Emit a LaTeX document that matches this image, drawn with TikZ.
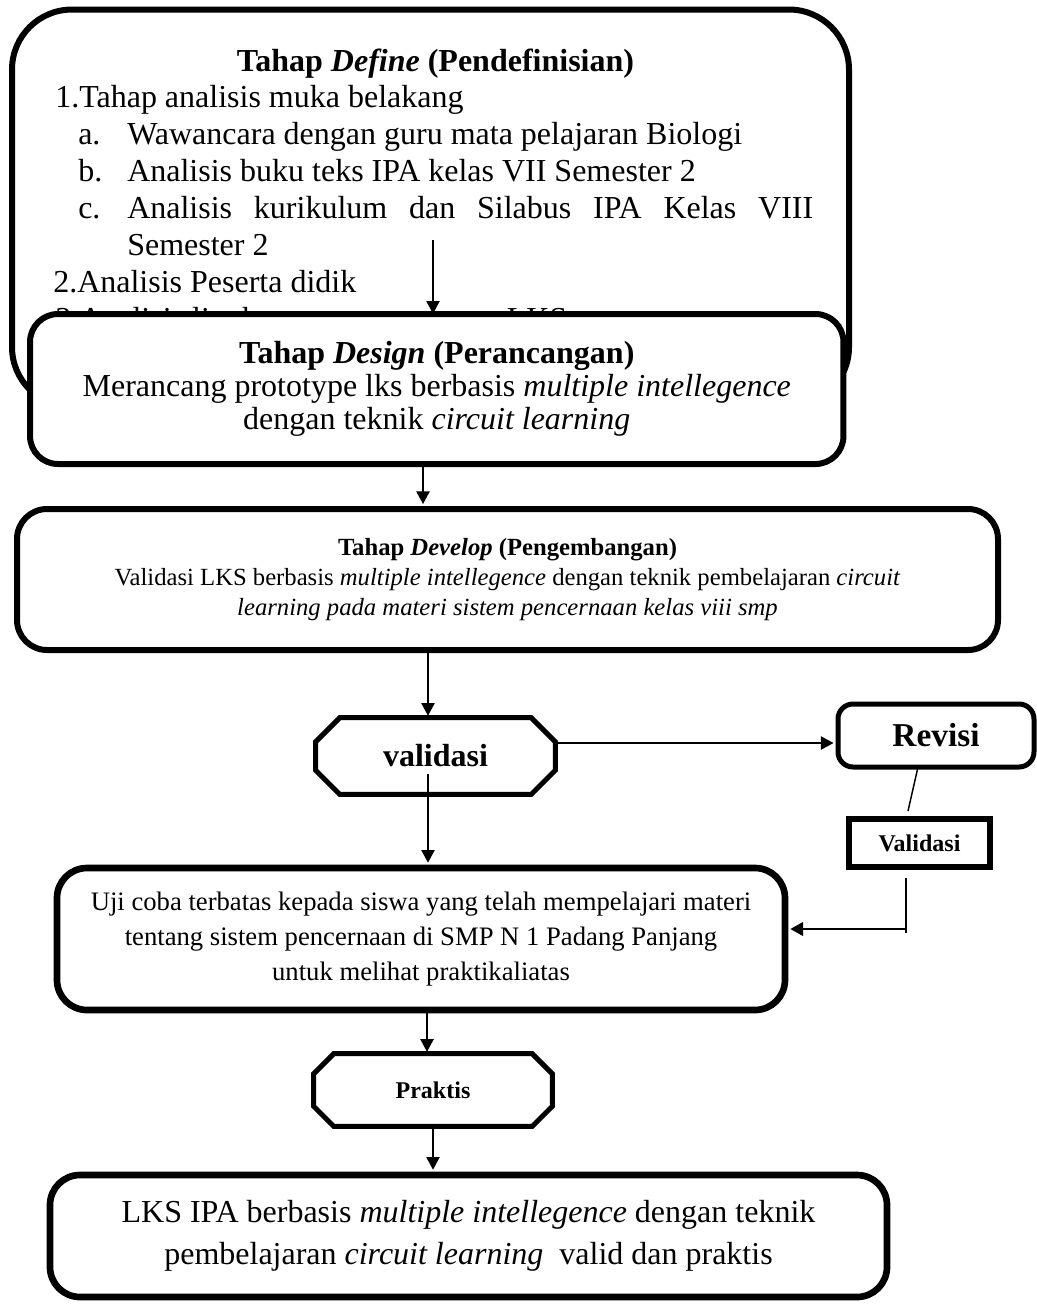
\documentclass[tikz,border=0pt]{standalone}
\usepackage{fontspec}
\setmainfont{Liberation Serif}
\usetikzlibrary{arrows.meta,calc}
\newcommand\myoct[2]{%
  \draw[octline] ([xshift=#2]#1.north west) -- ([xshift=-#2]#1.north east)
    -- ([yshift=-#2]#1.north east) -- ([yshift=#2]#1.south east)
    -- ([xshift=-#2]#1.south east) -- ([xshift=#2]#1.south west)
    -- ([yshift=#2]#1.south west) -- ([yshift=-#2]#1.north west) -- cycle;}
\begin{document}
\begin{tikzpicture}[x=0.75pt,y=-0.75pt,
  box/.style={draw, line width=4.5pt, rounded corners=#1, inner sep=0pt, align=center, fill=white},
  dt/.style={anchor=base west, inner sep=0pt, font=\fontsize{24}{27.75}\selectfont},
  octline/.style={draw, line width=3.75pt, line join=miter},
  plain/.style={inner sep=0pt, align=center},
  conn/.style={line width=1.1pt},
  arr/.style={conn, -{Triangle[length=9.5pt,width=10pt]}, shorten >=1.5pt}]
\useasboundingbox (0,0) rectangle (1037,1304);

% Define box
\node[box=45pt, minimum width=627.75pt, minimum height=298.1pt, fill=none] (define) at (430.5,208.25) {};
\node[dt, anchor=base] (dh) at (435.5,71) {\textbf{Tahap \textit{Define} (Pendefinisian)}};
\node[dt] (d1) at (55,107) {1.Tahap analisis muka belakang};
\node[dt] (da) at (78,144) {a.};
\node[dt] (dat) at (127,144) {Wawancara dengan guru mata pelajaran Biologi};
\node[dt] (db) at (78,181) {b.};
\node[dt] (dbt) at (127,181) {Analisis buku teks IPA kelas VII Semester 2};
\node[dt] (dc) at (78,218) {c.};
\node[dt] (dct) at (127,218) {\makebox[514.5pt][s]{Analisis kurikulum dan Silabus IPA Kelas VIII}};
\node[dt] (dcs) at (127,255) {Semester 2};
\node[dt] (d2) at (53,292) {2.Analisis Peserta didik};
\node[dt] (d3) at (55,329) {3.Analisis lingkungan penggunaan LKS};

% Design box
\node[box=21pt, minimum width=610.1pt, minimum height=112.5pt,
      font=\fontsize{24}{24.75}\selectfont] (design) at (436.75,389)
  {\textbf{Tahap \textit{Design} (Perancangan)}\\
   Merancang prototype lks berbasis \textit{multiple intellegence}\\
   dengan teknik \textit{circuit learning}};

% Develop box
\node[box=22.5pt, minimum width=735.75pt, minimum height=105.75pt,
      font=\fontsize{18.5}{22.5}\selectfont] (develop) at (507.5,579.5)
  {\textbf{Tahap \textit{Develop} (Pengembangan)}\\
   Validasi LKS berbasis \textit{multiple intellegence} dengan teknik pembelajaran \textit{circuit}\\
   \textit{learning pada materi sistem pencernaan kelas viii smp}};

% validasi octagon
\node[plain, minimum width=179.25pt, minimum height=57pt,
      font=\fontsize{24}{28}\selectfont\bfseries] (val) at (435.5,756) {validasi};
\myoct{val}{18pt}

% Revisi
\node[box=11.25pt, line width=3.75pt, minimum width=147pt, minimum height=47.25pt,
      font=\fontsize{25}{28}\selectfont\bfseries] (revisi) at (936,735.5) {Revisi};

% Validasi small box
\node[draw, line width=5pt, minimum width=105.75pt, minimum height=36pt, inner sep=0pt,
      font=\fontsize{18}{20}\selectfont\bfseries] (vbox) at (919.5,843) {Validasi};

% Uji box
\node[box=22.5pt, line width=5pt, minimum width=546pt, minimum height=106.5pt,
      font=\fontsize{20}{26.25}\selectfont] (uji) at (421,939)
  {Uji coba terbatas kepada siswa yang telah mempelajari materi\\
   tentang sistem pencernaan di SMP N 1 Padang Panjang\\
   untuk melihat praktikaliatas};

% Praktis octagon
\node[plain, minimum width=178.5pt, minimum height=54pt,
      font=\fontsize{18}{20}\selectfont\bfseries] (prak) at (433,1090) {Praktis};
\myoct{prak}{15pt}

% Final box
\node[box=22.5pt, line width=5pt, minimum width=627.75pt, minimum height=91.5pt,
      font=\fontsize{24}{31.5}\selectfont] (final) at (468.5,1236)
  {LKS IPA berbasis \textit{multiple intellegence} dengan teknik\\
   pembelajaran \textit{circuit learning}\ \ valid dan praktis};

% connectors
\coordinate (a0) at (433,240);
\draw[arr, shorten >=-2pt] (a0) -- (a0 |- design.north);
\coordinate (xa) at (423,0);
\draw[arr] (xa |- design.south) -- (xa |- develop.north);
\coordinate (xb) at (428,0);
\draw[arr] (xb |- develop.south) -- (xb |- val.north);
\coordinate (vy) at (0,743);
\draw[arr] (val.east |- vy) -- (revisi.west |- vy);
\coordinate (rv1) at (918,767);
\coordinate (rv2) at (908,811);
\draw[conn] (rv1) -- (rv2);
\coordinate (vb1) at (906,878);
\coordinate (vb2) at (906,933);
\coordinate (vb3) at (906,929);
\draw[conn] (vb1) -- (vb2);
\draw[arr, line width=1.9pt] (vb3) -- (vb3 -| uji.east);
\coordinate (va) at (428,774);
\draw[arr] (va) -- (va |- uji.north);
\coordinate (xc) at (427,0);
\draw[arr] (xc |- uji.south) -- (xc |- prak.north);
\coordinate (xd) at (433,0);
\draw[arr] (xd |- prak.south) -- (xd |- final.north);
\end{tikzpicture}
\end{document}
